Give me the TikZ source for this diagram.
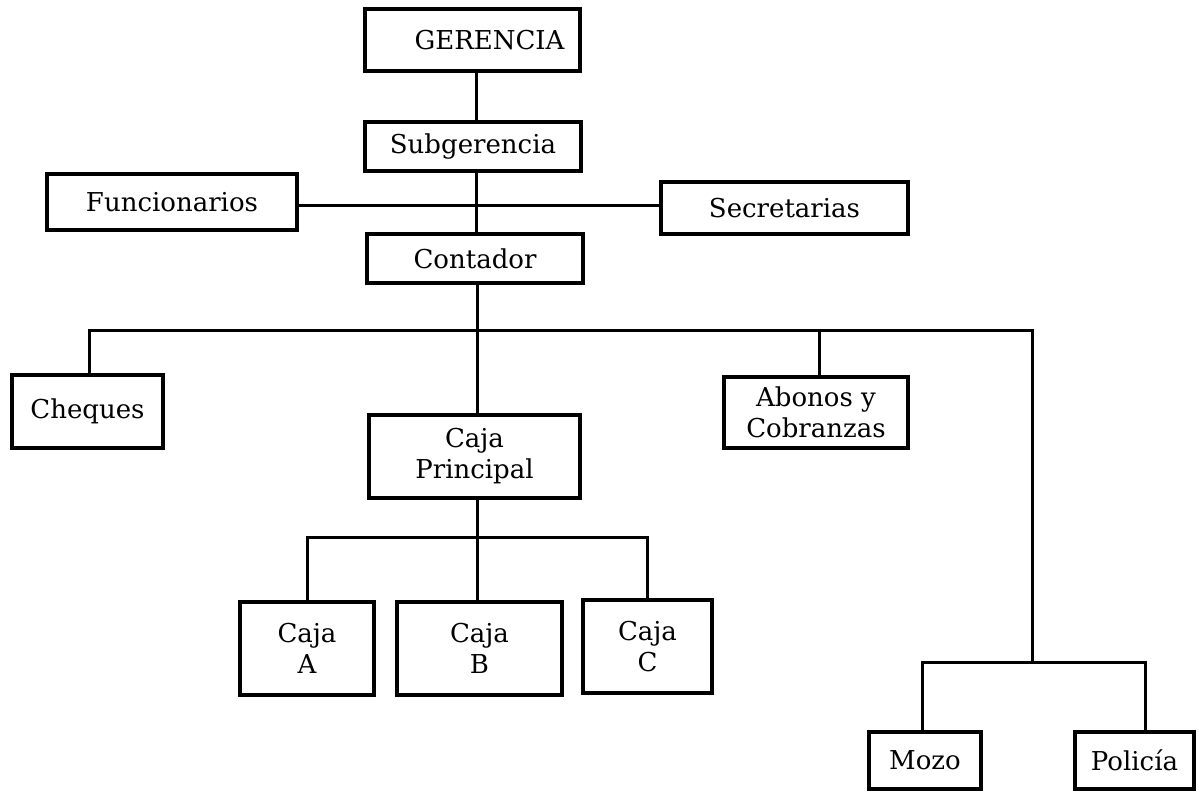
\documentclass[tikz,border=0pt]{standalone}
\usepackage{fontspec}
\setmainfont{DejaVu Serif}
\begin{document}
\begin{tikzpicture}[x=0.5pt,y=-0.5pt,
  box/.style={draw, line width=1.6pt, inner sep=0pt, align=center,
    font=\fontsize{13}{15.5}\selectfont},
  link/.style={line width=1.5pt, line join=miter}]
\useasboundingbox (0,0) rectangle (1199,792);

% top of the chart
\node[box, minimum width=107.5pt, minimum height=31pt] (ger) at (472.5,40) {\hspace*{17pt}GERENCIA};
\node[box, minimum width=108pt, minimum height=24.5pt] (sub) at (473,146.5) {Subgerencia};
\node[box, minimum width=125pt, minimum height=28pt] (fun) at (172,202) {Funcionarios};
\node[box, minimum width=123.5pt, minimum height=26pt] (sec) at (784.5,208) {Secretarias};
\node[box, minimum width=108pt, minimum height=24.5pt] (con) at (475,258.5) {Contador};

% departments under the accountant
\node[box, minimum width=75.5pt, minimum height=36.5pt] (che) at (87.5,411.5) {Cheques};
\node[box, minimum width=92pt, minimum height=35.5pt] (abo) at (816,412.5) {Abonos y\\Cobranzas};
\node[box, minimum width=105.5pt, minimum height=41.5pt] (cp) at (474.5,456.5) {Caja\\Principal};

% cash desks
\node[box, minimum width=67pt, minimum height=46.5pt] (ca) at (307,648.5) {Caja\\A};
\node[box, minimum width=82.5pt, minimum height=46.5pt] (cb) at (479.5,648.5) {Caja\\B};
\node[box, minimum width=64.5pt, minimum height=46.5pt] (cc) at (647.5,646.5) {Caja\\C};

% service staff
\node[box, minimum width=56pt, minimum height=28.5pt] (mozo) at (925,760.5) {Mozo};
\node[box, minimum width=59.5pt, minimum height=28.5pt] (pol) at (1134.5,760.5) {Policía};

% junction points
\coordinate (fs) at (476,205);
\coordinate (bus) at (476,330);
\coordinate (rt) at (1032,330);
\coordinate (rb) at (1032,662);
\coordinate (sbus) at (477,537);

% main trunk
\draw[link] (ger.south -| fs) -- (sub.north -| fs);
\draw[link] (sub.south -| fs) -- (con.north -| fs);
\draw[link] (fun.east |- fs) -- (sec.west |- fs);
\draw[link] (con.south -| sbus) -- (cp.north -| sbus);

% upper bus
\draw[link] ([xshift=0.75pt]che.north) |- (rt) -- (rb);
\draw[link] ([xshift=1.5pt]abo.north) -- ([xshift=1.5pt]abo.north |- bus);

% cash desk bus
\draw[link] (cp.south -| sbus) -- (cb.north -| sbus);
\draw[link] (ca.north) |- (sbus) -| (cc.north);

% service staff bus
\draw[link] ([xshift=-1.5pt]mozo.north) |- (rb) -| ([xshift=5.25pt]pol.north);
\end{tikzpicture}
\end{document}
